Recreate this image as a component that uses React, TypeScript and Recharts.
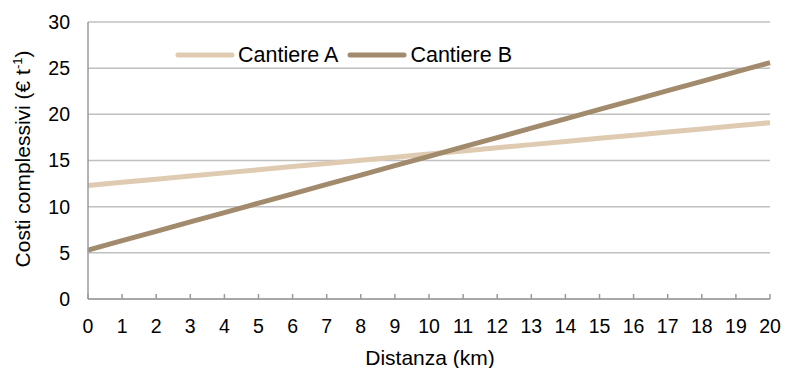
import { LineChart, Line, XAxis, YAxis, CartesianGrid } from 'recharts'

const FONT = '"Liberation Sans", Arial, sans-serif'

// distance in km
const distanze = [0, 1, 2, 3, 4, 5, 6, 7, 8, 9, 10, 11, 12, 13, 14, 15, 16, 17, 18, 19, 20]
// total cost (€ t-1) per site
const cantiereA = [12.3, 12.64, 12.98, 13.32, 13.66, 14.0, 14.34, 14.68, 15.02, 15.36, 15.7, 16.04, 16.38, 16.72, 17.06, 17.4, 17.74, 18.08, 18.42, 18.76, 19.1]
const cantiereB = [5.3, 6.32, 7.33, 8.35, 9.36, 10.38, 11.39, 12.41, 13.42, 14.44, 15.45, 16.47, 17.48, 18.5, 19.51, 20.53, 21.54, 22.56, 23.57, 24.59, 25.6]
const yTicks = [0, 5, 10, 15, 20, 25, 30]

const COL_A = '#dfcbb1'
const COL_B = '#a28b6d'

const data = distanze.map((d, i) => ({ km: d, a: cantiereA[i], b: cantiereB[i] }))

function LegendBox() {
  const item = (label: string, color: string) => (
    <div style={{ display: 'flex', alignItems: 'center', marginRight: 9 }}>
      <svg width={60} height={10} style={{ display: 'block' }}>
        <line x1={3} y1={5} x2={57} y2={5} stroke={color} strokeWidth={5} strokeLinecap="round" />
      </svg>
      <span style={{ fontFamily: FONT, fontSize: 21.5, color: '#000', marginLeft: 3, lineHeight: '24px' }}>{label}</span>
    </div>
  )
  return (
    <div style={{ position: 'absolute', left: 175, top: 43, display: 'flex' }}>
      {item('Cantiere A', COL_A)}
      {item('Cantiere B', COL_B)}
    </div>
  )
}

function YTitle() {
  return (
    <text transform="translate(30,159) rotate(-90)" textAnchor="middle" fontFamily={FONT} fontSize={21} fill="#000">
      Costi complessivi (€ t<tspan dy={-8} fontSize={13}>-1</tspan><tspan dy={8}>)</tspan>
    </text>
  )
}

function XTitle() {
  return (
    <text x={430} y={365} textAnchor="middle" fontFamily={FONT} fontSize={21} fill="#000">
      Distanza (km)
    </text>
  )
}

export default function App() {
  return (
    <div style={{ position: 'absolute', left: 0, top: 0, width: 785, height: 368, background: '#fff' }}>
      <LineChart width={785} height={368} data={data} margin={{ top: 22, right: 15, left: 0, bottom: 0 }}>
        <CartesianGrid vertical={false} stroke="#c0c0c0" strokeWidth={1.5} />
        <XAxis
          dataKey="km"
          type="number"
          domain={[0, 20]}
          ticks={distanze}
          interval={0}
          height={69}
          tickSize={-5}
          tickMargin={25}
          stroke="#9a9a9a"
          strokeWidth={1.5}
          tick={{ fill: '#000', fontSize: 19.5, fontFamily: FONT }}
          label={{ content: () => <XTitle /> }}
        />
        <YAxis
          type="number"
          domain={[0, 30]}
          ticks={yTicks}
          width={88}
          tickLine={false}
          tickSize={0}
          tickMargin={18}
          stroke="#9a9a9a"
          strokeWidth={1.5}
          tick={{ fill: '#000', fontSize: 19.5, fontFamily: FONT }}
          label={{ content: () => <YTitle /> }}
        />
        <Line dataKey="a" name="Cantiere A" stroke={COL_A} strokeWidth={5} dot={false} activeDot={false} isAnimationActive={false} />
        <Line dataKey="b" name="Cantiere B" stroke={COL_B} strokeWidth={5} dot={false} activeDot={false} isAnimationActive={false} />
      </LineChart>
      <LegendBox />
    </div>
  )
}
